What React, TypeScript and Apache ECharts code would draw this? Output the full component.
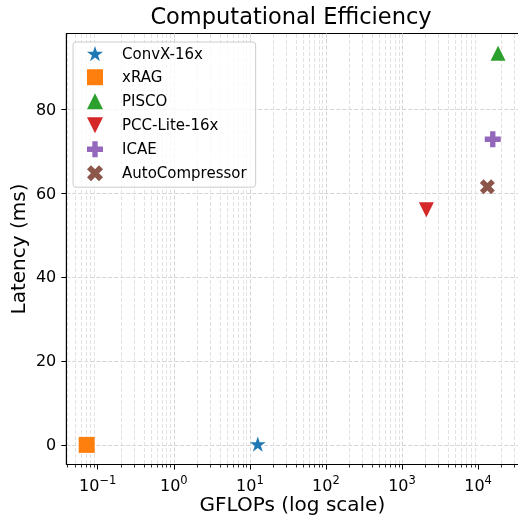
import React, { useEffect, useRef } from "react";
import * as echarts from "echarts";

// ---- data ----
const methods = ["ConvX-16x", "xRAG", "PISCO", "PCC-Lite-16x", "ICAE", "AutoCompressor"];
const gflops = [12.7, 0.0716, 18300, 2090, 15600, 13250];
const latencyMs = [0.2, 0, 93.3, 56.0, 72.8, 61.5];
const colors = ["#1f77b4", "#ff7f0e", "#2ca02c", "#d62728", "#9467bd", "#8c564b"];
const xMajorTicks = [0.1, 1, 10, 100, 1000, 10000];
const minorMantissas = [2, 3, 4, 5, 6, 7, 8, 9];
const minorDecades = [0.01, 0.1, 1, 10, 100, 1000, 10000];

const X_MIN = 0.0386;
const X_MAX = 34000;
const Y_MIN = -4.67;
const Y_MAX = 98;

const STAR = "path://M100,0 L122.45,69.1 L195.11,69.1 L136.33,111.8 L158.78,180.9 L100,138.2 L41.22,180.9 L63.67,111.8 L4.89,69.1 L77.55,69.1 Z";
const PLUS = "path://M2,0L4,0L4,2L6,2L6,4L4,4L4,6L2,6L2,4L0,4L0,2L2,2Z";
const XMARK = "path://M424.2,0L282.8,141.4L141.4,0L0,141.4L141.4,282.8L0,424.2L141.4,565.6L282.8,424.2L424.2,565.6L565.6,424.2L424.2,282.8L565.6,141.4Z";
const TRI_DOWN = "path://M0,0L2,0L1,2Z";

const symbols = [STAR, "rect", "triangle", TRI_DOWN, PLUS, XMARK];
const symbolSizes = [16, 16, 15, 15, 16, 15];

function powLabel(v: number): string {
  const e = Math.log10(v);
  const r = Math.round(e);
  if (Math.abs(e - r) > 1e-6) return "";
  const exp = r < 0 ? "\u2212" + String(-r) : String(r);
  return "{b|10}{s|" + exp + "}";
}

export default function App() {
  const ref = useRef<HTMLDivElement>(null);
  useEffect(() => {
    if (!ref.current) return;
    const chart = echarts.init(ref.current, undefined, { renderer: "svg" });
    const minorTicks: number[][] = [];
    minorDecades.forEach((d) =>
      minorMantissas.forEach((m) => {
        const v = d * m;
        if (v > X_MIN && v < X_MAX) minorTicks.push([v, 0]);
      })
    );
    const font = "DejaVu Sans";
    const scatterSeries = methods.map((name, i) => ({
      type: "scatter",
      name,
      data: [[gflops[i], latencyMs[i]]],
      symbol: symbols[i],
      symbolSize: symbolSizes[i],
      symbolKeepAspect: true,
      itemStyle: { color: colors[i], opacity: 1 },
      z: 5,
    }));
    chart.setOption({
      animation: false,
      textStyle: { fontFamily: font },
      title: {
        text: "Computational Efficiency",
        left: 291,
        top: 4,
        padding: 0,
        textAlign: "center",
        textStyle: { fontSize: 22.5, fontWeight: "normal", color: "#000", fontFamily: font },
      },
      grid: {
        left: 66.3,
        right: -0.5,
        top: 33.5,
        bottom: 50.5,
        show: true,
        borderColor: "#000",
        borderWidth: 1,
        backgroundColor: "transparent",
        containLabel: false,
        outerBoundsMode: "none",
      },
      legend: {
        orient: "vertical",
        left: 73,
        top: 42,
        padding: [4, 9, 6, 14],
        itemWidth: 16,
        itemHeight: 16,
        itemGap: 8,
        backgroundColor: "rgba(255,255,255,0.8)",
        borderColor: "#cccccc",
        borderWidth: 1,
        borderRadius: 3,
        textStyle: { fontSize: 15, color: "#000", fontFamily: font, padding: [0, 0, 0, 14] },
        data: methods.map((name, i) => ({ name, icon: symbols[i] })),
      },
      xAxis: {
        type: "log",
        logBase: 10,
        min: X_MIN,
        max: X_MAX,
        name: "GFLOPs (log scale)",
        nameLocation: "middle",
        nameGap: 29.5,
        nameMoveOverlap: false,
        nameTextStyle: { fontSize: 20, lineHeight: 20, color: "#000", fontFamily: font },
        axisLine: { show: true, onZero: false, lineStyle: { color: "#000", width: 1 } },
        axisTick: { show: true, length: 5, lineStyle: { color: "#000", width: 1 }, customValues: xMajorTicks },
        axisLabel: {
          color: "#000",
          margin: 9,
          formatter: (v: number) => powLabel(v),
          customValues: xMajorTicks,
          rich: {
            b: { fontSize: 16, lineHeight: 20, verticalAlign: "bottom", color: "#000", fontFamily: font },
            s: { fontSize: 11.5, lineHeight: 12, verticalAlign: "top", color: "#000", fontFamily: font },
          },
        },
        splitLine: {
          show: true,
          showMinLine: false,
          showMaxLine: false,
          lineStyle: { color: "#d4d4d4", width: 1, type: [4, 2] },
        },
      },
      yAxis: {
        type: "value",
        min: Y_MIN,
        max: Y_MAX,
        name: "Latency (ms)",
        nameLocation: "middle",
        nameGap: 38,
        nameMoveOverlap: false,
        nameTextStyle: { fontSize: 20, color: "#000", fontFamily: font },
        axisLine: { show: true, onZero: false, lineStyle: { color: "#000", width: 1 } },
        axisTick: { show: true, length: 5, lineStyle: { color: "#000", width: 1 } },
        axisLabel: {
          fontSize: 16,
          color: "#000",
          margin: 10,
          showMinLabel: false,
          showMaxLabel: false,
        },
        splitLine: {
          show: true,
          showMinLine: false,
          showMaxLine: false,
          lineStyle: { color: "#d4d4d4", width: 1, type: [4, 2] },
        },
      },
      series: [
        {
          type: "custom",
          silent: true,
          clip: false,
          z: 1,
          data: minorTicks,
          encode: { x: 0, y: 1 },
          renderItem: (_params: any, api: any) => {
            const v = api.value(0);
            const top = api.coord([v, Y_MAX]);
            const bot = api.coord([v, Y_MIN]);
            const x = Math.round(top[0]) + 0.5;
            return {
              type: "group",
              children: [
                {
                  type: "line",
                  shape: { x1: x, y1: top[1] + 0.5, x2: x, y2: bot[1] - 0.5 },
                  style: { stroke: "#e2e2e2", lineWidth: 1, lineDash: [4, 2] },
                },
                {
                  type: "line",
                  shape: { x1: x, y1: bot[1], x2: x, y2: bot[1] + 3 },
                  style: { stroke: "#000", lineWidth: 0.8 },
                },
              ],
            };
          },
        },
        ...scatterSeries,
      ],
    });
    return () => chart.dispose();
  }, []);
  return <div ref={ref} style={{ position: "fixed", left: 0, top: 0, width: 518, height: 515 }} />;
}
